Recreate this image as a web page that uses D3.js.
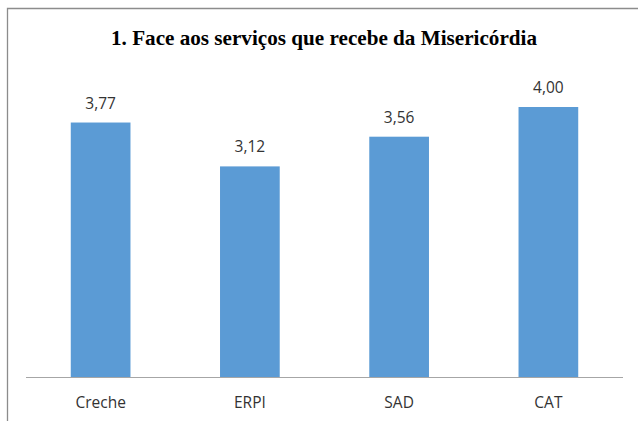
<!DOCTYPE html>
<html lang="pt">
<head>
<meta charset="utf-8">
<title>Face aos serviços que recebe da Misericórdia</title>
<script src="https://cdn.jsdelivr.net/npm/d3@7"></script>
<style>
  body { margin: 0; background: #fff; }
</style>
</head>
<body>
<script>
var categories = ["Creche", "ERPI", "SAD", "CAT"]
var values = [3.77, 3.12, 3.56, 4.00]
var title = "1. Face aos serviços que recebe da Misericórdia"

var w = 638, h = 421
var baseY = 377, topY = 107

var svg = d3.select("body").append("svg")
  .attr("width", w)
  .attr("height", h)

// chart frame (only top and left edges fall inside the picture)
svg.append("path")
  .attr("d", "M7.5," + h + " L7.5,8.5 L" + w + ",8.5")
  .attr("fill", "none")
  .attr("stroke", "#8c8c8c")
  .attr("stroke-width", 1.3)

svg.append("text")
  .attr("x", 324)
  .attr("y", 45)
  .attr("text-anchor", "middle")
  .attr("font-family", "'Liberation Serif', 'Times New Roman', serif")
  .attr("font-weight", "bold")
  .attr("font-size", 22)
  .attr("textLength", 426)
  .attr("lengthAdjust", "spacingAndGlyphs")
  .attr("fill", "#000")
  .text(title)

var x = d3.scaleBand()
  .domain(categories)
  .range([26, 623])
  .paddingInner(0.6)
  .paddingOuter(0.3)

var y = d3.scaleLinear()
  .domain([0, 4])
  .range([baseY, topY])

svg.selectAll("rect.bar")
  .data(values)
  .enter()
  .append("rect")
  .attr("class", "bar")
  .attr("x", function (d, i) { return x(categories[i]) })
  .attr("y", function (d) { return y(d) })
  .attr("width", x.bandwidth())
  .attr("height", function (d) { return baseY - y(d) })
  .attr("fill", "#5b9bd5")

svg.selectAll("text.val")
  .data(values)
  .enter()
  .append("text")
  .attr("class", "val")
  .attr("x", function (d, i) { return x(categories[i]) + x.bandwidth() / 2 })
  .attr("y", function (d) { return y(d) - 14 })
  .attr("text-anchor", "middle")
  .attr("font-family", "'Open Sans', 'DejaVu Sans', sans-serif")
  .attr("font-size", 15.5)
  .attr("fill", "#333")
  .text(function (d) { return d.toFixed(2).replace(".", ",") })

// category axis
var xAxis = svg.append("g")
  .attr("transform", "translate(0," + baseY + ")")
  .call(d3.axisBottom(x).tickSize(0).tickPadding(0))

xAxis.select(".domain")
  .attr("d", "M26,0.5 L623,0.5")
  .attr("stroke", "#a6a6a6")
  .attr("stroke-width", 1.2)

xAxis.selectAll("text")
  .attr("dy", null)
  .attr("y", 31)
  .attr("font-family", "'Open Sans', 'DejaVu Sans', sans-serif")
  .attr("font-size", 15.5)
  .attr("fill", "#333")
</script>
</body>
</html>
